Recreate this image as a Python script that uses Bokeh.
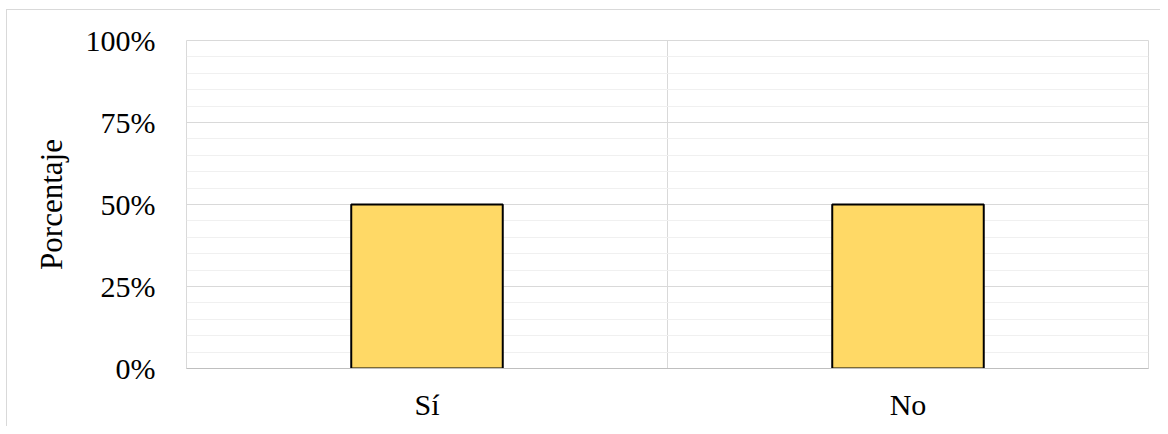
from bokeh.plotting import figure
from bokeh.models import FixedTicker, Range1d, PrintfTickFormatter
from bokeh.embed import file_html
from bokeh.resources import INLINE

categories = ["Sí", "No"]
values = [50, 50]
y_ticks = [0, 25, 50, 75, 100]
y_minor = [5, 10, 15, 20, 30, 35, 40, 45, 55, 60, 65, 70, 80, 85, 90, 95]

xs = [i + 0.5 for i in range(len(categories))]

p = figure(width=1160, height=426, output_backend="svg", toolbar_location=None,
           x_range=Range1d(0, len(categories)), y_range=Range1d(0, 100),
           min_border_left=186, min_border_right=12, min_border_top=40, min_border_bottom=58)

p.background_fill_color = "white"
p.border_fill_color = None
p.styles = {
    "background": "linear-gradient(#d9d9d9,#d9d9d9) 6px 9px / 1px 100% no-repeat, "
                  "linear-gradient(#d9d9d9,#d9d9d9) 6px 9px / 100% 1px no-repeat, white"
}
p.outline_line_color = "#d9d9d9"
p.outline_line_width = 1

p.ygrid.ticker = FixedTicker(ticks=y_ticks, minor_ticks=y_minor)
p.ygrid.grid_line_color = "#d9d9d9"
p.ygrid.grid_line_width = 1
p.ygrid.minor_grid_line_color = "#f0f0f0"
p.ygrid.minor_grid_line_width = 1
p.xgrid.ticker = FixedTicker(ticks=list(range(1, len(categories))))
p.xgrid.grid_line_color = "#d9d9d9"
p.xgrid.grid_line_width = 1

p.vbar(x=xs, top=values, width=0.315, fill_color="#FFD966",
       line_color="black", line_width=2)

font = "Liberation Serif"
p.yaxis.ticker = FixedTicker(ticks=y_ticks)
p.yaxis.formatter = PrintfTickFormatter(format="%d%%")
p.yaxis.axis_line_color = None
p.yaxis.major_tick_line_color = None
p.yaxis.minor_tick_line_color = None
p.yaxis.major_tick_out = 0
p.yaxis.major_label_standoff = 31
p.yaxis.major_label_text_font = font
p.yaxis.major_label_text_font_size = "30px"
p.yaxis.major_label_text_color = "black"
p.yaxis.axis_label = "Porcentaje"
p.yaxis.axis_label_text_font = font
p.yaxis.axis_label_text_font_size = "31px"
p.yaxis.axis_label_text_font_style = "normal"
p.yaxis.axis_label_text_color = "black"
p.yaxis.axis_label_standoff = 14

p.xaxis.ticker = FixedTicker(ticks=xs)
p.xaxis.major_label_overrides = {x: c for x, c in zip(xs, categories)}
p.xaxis.axis_line_color = "#bfbfbf"
p.xaxis.axis_line_width = 1
p.xaxis.major_tick_line_color = None
p.xaxis.minor_tick_line_color = None
p.xaxis.major_tick_out = 0
p.xaxis.major_label_standoff = 19
p.xaxis.major_label_text_font = font
p.xaxis.major_label_text_font_size = "30px"
p.xaxis.major_label_text_color = "black"

open("out.html", "w").write(file_html(p, INLINE))
